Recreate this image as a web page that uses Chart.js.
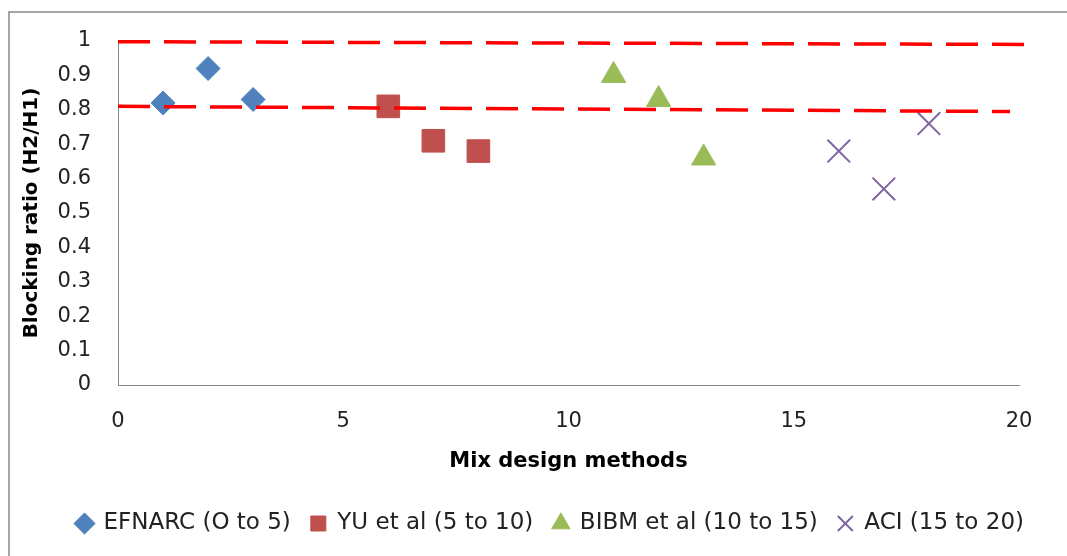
<!DOCTYPE html>
<html>
<head>
<meta charset="utf-8">
<script src="https://cdn.jsdelivr.net/npm/chart.js@4/dist/chart.umd.min.js"></script>
<style>
  html, body { margin: 0; padding: 0; background: #fff; }
  #wrap { position: relative; width: 1067px; height: 556px; overflow: hidden; }
  #frame { position: absolute; left: 8px; top: 11px; width: 1200px; height: 700px;
           border-top: 2px solid #a6a6a6; border-left: 2px solid #a6a6a6; }
  canvas { position: absolute; left: 0; top: 0; }
</style>
</head>
<body>
<div id="wrap">
  <div id="frame"></div>
  <canvas id="myChart" width="1067" height="556"></canvas>
</div>
<script>
const seriesNames = ['EFNARC (O to 5)', 'YU et al (5 to 10)', 'BIBM et al (10 to 15)', 'ACI (15 to 20)'];

const efnarcX = [1, 2, 3];
const efnarcY = [0.82, 0.92, 0.83];
const yuX = [6, 7, 8];
const yuY = [0.81, 0.71, 0.68];
const bibmX = [11, 12, 13];
const bibmY = [0.90, 0.83, 0.66];
const aciX = [16, 17, 18];
const aciY = [0.68, 0.57, 0.76];

// the two hand-drawn red limit lines (start / end)
const upperLineX = [0, 20.15];
const upperLineY = [0.998, 0.99];
const lowerLineX = [0, 19.8];
const lowerLineY = [0.81, 0.795];

const xTicks = [0, 5, 10, 15, 20];
const yTicks = [0, 0.1, 0.2, 0.3, 0.4, 0.5, 0.6, 0.7, 0.8, 0.9, 1];
const yTickLabels = ['0', '0.1', '0.2', '0.3', '0.4', '0.5', '0.6', '0.7', '0.8', '0.9', '1'];

function pts(xs, ys) {
  return xs.map((x, i) => ({ x: x, y: ys[i] }));
}

function scatterSet(label, xs, ys, color, style, radius, bw) {
  return {
    type: 'scatter',
    label: label,
    data: pts(xs, ys),
    pointStyle: style,
    pointRadius: radius,
    pointHoverRadius: radius,
    backgroundColor: color,
    borderColor: color,
    borderWidth: bw,
    order: 1
  };
}

function limitLine(xs, ys) {
  return {
    type: 'line',
    label: 'limit',
    data: pts(xs, ys),
    borderColor: '#ff0000',
    borderWidth: 3.5,
    borderDash: [32, 14],
    borderCapStyle: 'butt',
    pointRadius: 0,
    fill: false,
    clip: false,
    order: 0
  };
}

// legend sits a bit right of centre in the original
const shiftLegend = {
  id: 'shiftLegend',
  afterLayout(chart) {
    chart.legend.left += 35;
    chart.legend.right += 35;
  }
};

const font = '"DejaVu Sans", sans-serif';

const data = {
  datasets: [
    scatterSet(seriesNames[0], efnarcX, efnarcY, '#4f81bd', 'rectRot', 12, 1),
    scatterSet(seriesNames[1], yuX, yuY, '#c0504d', 'rect', 16, 1),
    scatterSet(seriesNames[2], bibmX, bibmY, '#9bbb59', 'triangle', 14, 1),
    scatterSet(seriesNames[3], aciX, aciY, '#8064a2', 'crossRot', 16, 2),
    limitLine(upperLineX, upperLineY),
    limitLine(lowerLineX, lowerLineY)
  ]
};

const config = {
  type: 'scatter',
  data: data,
  plugins: [shiftLegend],
  options: {
    responsive: false,
    animation: false,
    layout: {
      padding: { left: 12, top: 41, right: 48, bottom: 11 }
    },
    scales: {
      x: {
        type: 'linear',
        min: 0,
        max: 20,
        afterBuildTicks: (s) => { s.ticks = xTicks.map(v => ({ value: v })); },
        afterFit: (s) => { s.height = 107; },
        grid: { display: false, drawTicks: false },
        border: { display: true, color: '#868686', width: 1 },
        ticks: { color: '#222', padding: 24, font: { family: font, size: 21 } },
        title: {
          display: true,
          text: 'Mix design methods',
          color: '#000',
          font: { family: font, size: 21, weight: 'bold' },
          padding: { top: 0, bottom: 18 }
        }
      },
      y: {
        min: 0,
        max: 1,
        afterBuildTicks: (s) => { s.ticks = yTicks.map(v => ({ value: v })); },
        afterFit: (s) => { s.width = 106; },
        grid: { display: false, drawTicks: false },
        border: { display: true, color: '#868686', width: 1 },
        ticks: {
          color: '#222',
          padding: 27,
          font: { family: font, size: 21 },
          callback: (v, i) => yTickLabels[i]
        },
        title: {
          display: true,
          text: 'Blocking ratio (H2/H1)',
          color: '#000',
          font: { family: font, size: 20, weight: 'bold' },
          padding: { top: 8, bottom: 0 }
        }
      }
    },
    plugins: {
      tooltip: { enabled: false },
      legend: {
        position: 'bottom',
        labels: {
          usePointStyle: true,
          boxWidth: 15,
          boxHeight: 15,
          padding: 20,
          color: '#222',
          font: { family: font, size: 23 },
          filter: (item) => item.text !== 'limit'
        }
      }
    }
  }
};

var myChart = new Chart(
  document.getElementById('myChart'),
  config
);
</script>
</body>
</html>
